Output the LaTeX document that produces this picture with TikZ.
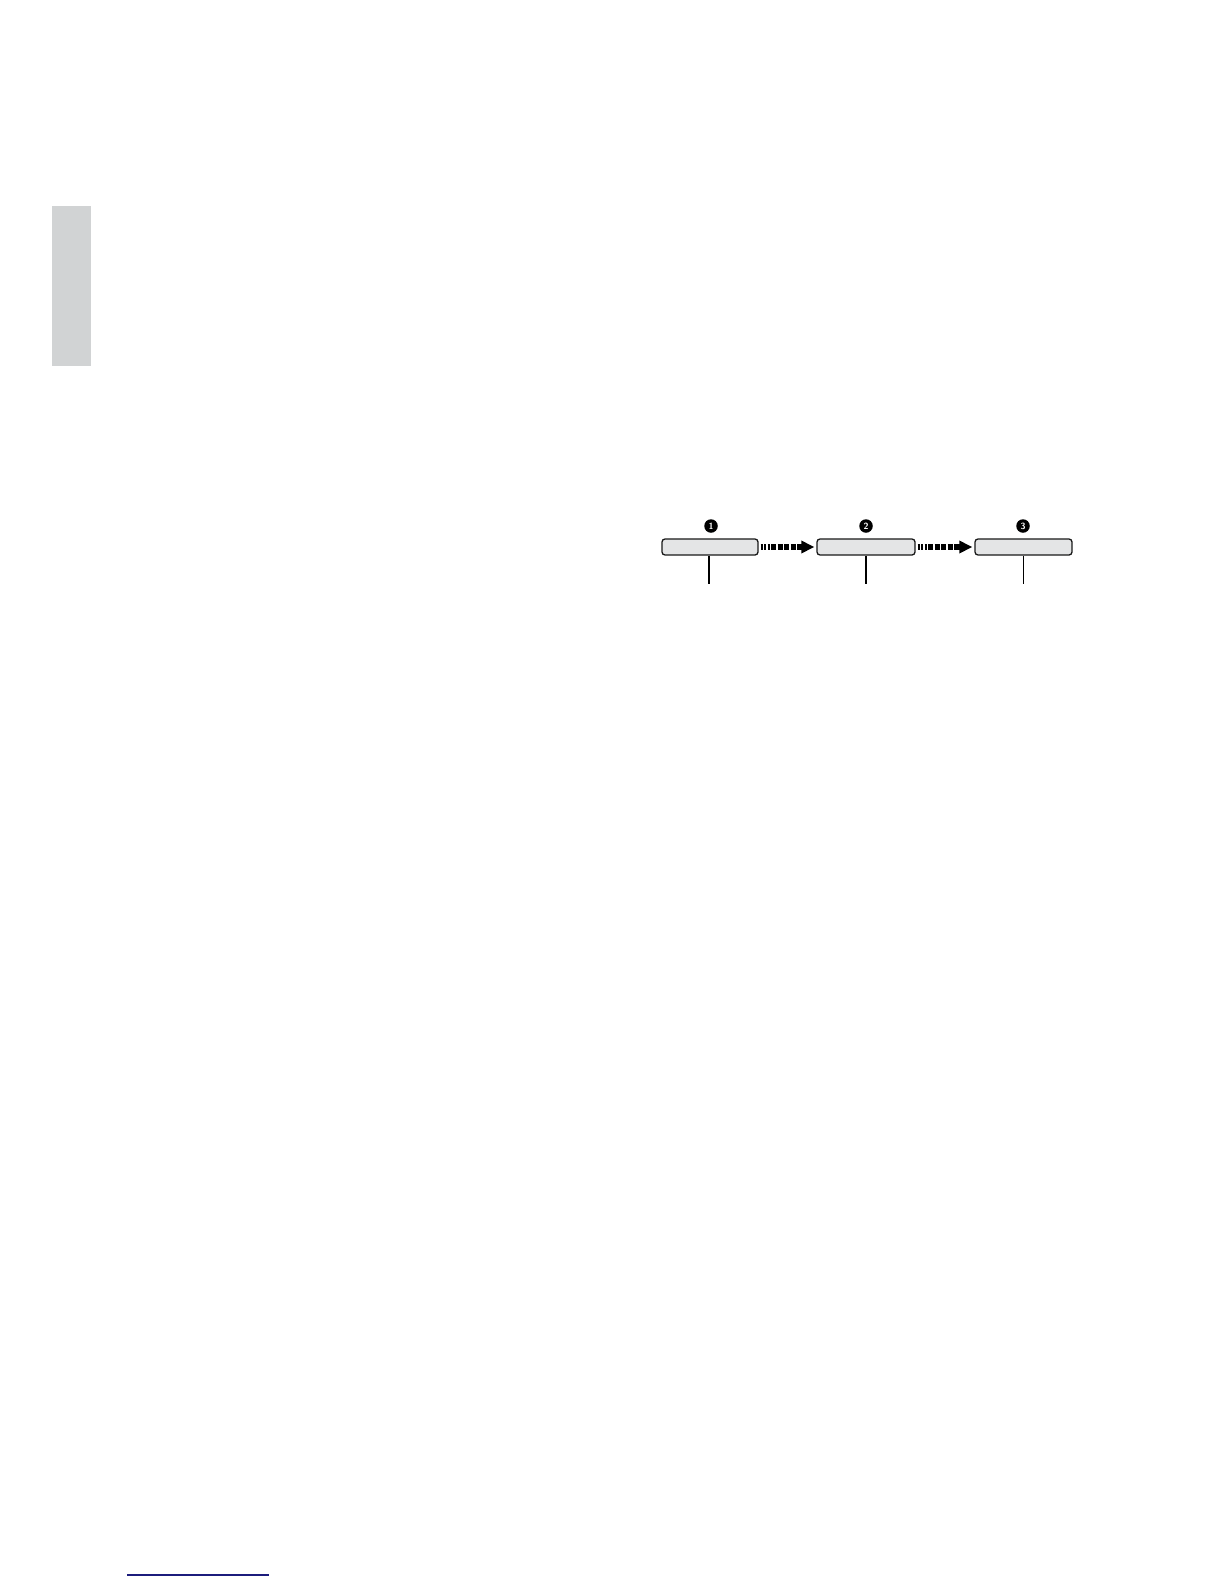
\documentclass[tikz,border=0pt]{standalone}
\usetikzlibrary{arrows.meta}
\definecolor{tabgray}{HTML}{D1D3D4}
\definecolor{boxfill}{HTML}{E4E5E6}
\definecolor{navyline}{HTML}{1C1C7C}
\begin{document}
\begin{tikzpicture}[x=1pt,y=-1pt,
  stagebox/.style={draw=black!90,line width=1.3pt,rounded corners=3pt,fill=boxfill,
    minimum width=96pt,minimum height=16pt,inner sep=0pt},
  stepnum/.style={circle,fill=black,text=white,inner sep=0pt,minimum size=13.5pt,
    font=\sffamily\bfseries\fontsize{9}{9}\selectfont},
  dasharrow/.style={line width=5.5pt,
    dash pattern=on 2pt off 1.5pt on 2pt off 1.5pt on 2pt off 1.5pt on 5pt off 1.5pt on 5pt off 1.5pt on 5pt off 1.5pt on 5pt off 1.5pt on 12pt off 0pt,
    -{Triangle[length=13pt,width=12pt]},shorten <=2pt,shorten >=2pt},
  leader/.style={draw=black,line width=1.4pt}]
\useasboundingbox (0,0) rectangle (1224,1584);
% side tab
\fill[tabgray] (52,206) rectangle (91,366);
% boxes
\node[stagebox] (b1) at (710,547) {};
\node[stagebox,minimum width=98pt] (b2) at (866,547) {};
\node[stagebox,minimum width=97pt] (b3) at (1023.5,547) {};
% numbers
\node[stepnum] (n1) at (711,526) {1};
\node[stepnum] (n2) at (866,526) {2};
\node[stepnum] (n3) at (1023,526) {3};
% arrows
\draw[dasharrow] (b1.east) -- (b2.west);
\draw[dasharrow] (b2.east) -- (b3.west);
% leader lines
\coordinate (e1) at (709,584);
\coordinate (e2) at (866,584);
\coordinate (e3) at (1023,584);
\draw[leader] (b1.south -| e1) -- (e1);
\draw[leader] (b2.south -| e2) -- (e2);
\draw[leader,line width=1pt] (b3.south -| e3) -- (e3);
% bottom rule
\coordinate (r1) at (127,1575);
\coordinate (r2) at (269,1575);
\draw[navyline,line width=1.2pt] (r1) -- (r2);
\end{tikzpicture}
\end{document}
